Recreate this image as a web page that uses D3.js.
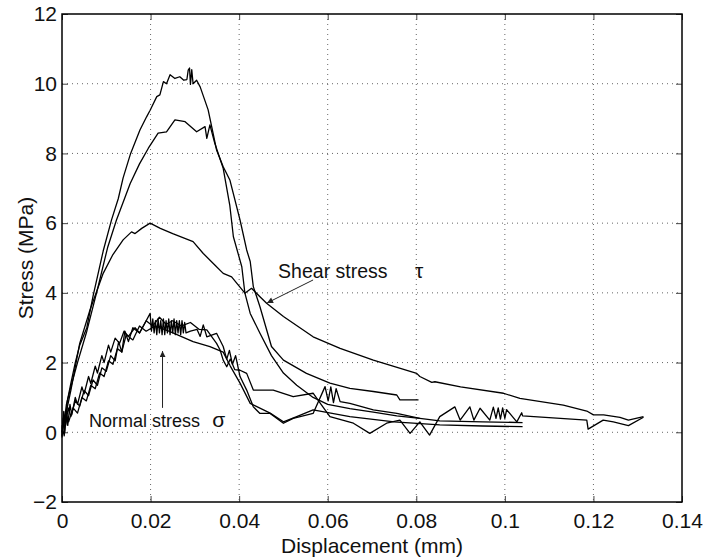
<!DOCTYPE html>
<html>
<head>
<meta charset="utf-8">
<script src="https://cdn.jsdelivr.net/npm/d3@7"></script>
<style>
  body { margin: 0; background: #fff; }
  svg { display: block; font-family: "Liberation Sans", Arial, Helvetica, sans-serif; }
</style>
</head>
<body>
<svg id="chart"></svg>
<script>
// tick values
const xTicks = [0, 0.02, 0.04, 0.06, 0.08, 0.1, 0.12, 0.14]
const yTicks = [-2, 0, 2, 4, 6, 8, 10, 12]

// shear stress curves [displacement mm, stress MPa]
const shearA = [[0,-0.1],[0.0004,0.5],[0.0008,0.2],[0.0012,0.9],[0.002,1.4],[0.003,2.0],[0.004,2.5],[0.0056,3.0],[0.007,3.9],[0.0093,5.2],[0.0112,6.1],[0.0127,6.7],[0.0138,7.3],[0.0155,8.0],[0.0176,8.67],[0.0191,9.05],[0.0199,9.24],[0.0214,9.63],[0.0221,9.68],[0.0229,10.06],[0.0236,10.0],[0.0244,10.26],[0.0255,10.15],[0.0266,10.2],[0.0275,10.1],[0.0282,10.12],[0.0285,10.39],[0.0288,10.45],[0.029,9.98],[0.0293,10.4],[0.0296,10.0],[0.0304,10.1],[0.0312,9.91],[0.033,9.25],[0.0338,8.77],[0.0349,8.1],[0.0364,7.62],[0.0379,7.24],[0.0402,6.09],[0.0417,5.23],[0.0425,4.9],[0.0432,4.18],[0.0447,3.6],[0.0473,2.46],[0.05,2.07],[0.0552,1.69],[0.0605,1.41],[0.065,1.26],[0.0703,1.17],[0.0756,1.07],[0.0763,0.93],[0.0805,0.93]]
const shearB = [[0,0.1],[0.0005,0.3],[0.001,0.8],[0.002,1.3],[0.0035,2.0],[0.0056,2.9],[0.008,4.1],[0.0103,5.3],[0.0123,6.09],[0.0154,7.14],[0.0175,7.7],[0.0195,8.15],[0.0217,8.58],[0.0236,8.62],[0.0255,8.96],[0.0278,8.91],[0.0304,8.62],[0.0323,8.77],[0.0327,8.43],[0.0334,8.82],[0.0345,8.29],[0.0364,7.57],[0.0379,6.5],[0.0387,5.61],[0.0406,4.75],[0.0413,3.99],[0.0425,3.41],[0.0447,2.84],[0.0473,2.2],[0.05,1.7],[0.053,1.35],[0.0567,1.0],[0.06,0.8],[0.065,0.68],[0.0703,0.58],[0.0756,0.47],[0.0808,0.4],[0.0853,0.33],[0.095,0.3],[0.104,0.28]]
const shearC = [[0,0],[0.001,0.6],[0.002,1.2],[0.004,2.55],[0.0063,3.5],[0.0093,4.56],[0.0115,5.1],[0.0138,5.52],[0.0157,5.75],[0.0165,5.7],[0.018,5.85],[0.0199,6.0],[0.0222,5.85],[0.025,5.7],[0.0296,5.47],[0.0319,5.13],[0.0345,4.8],[0.0364,4.56],[0.0383,4.46],[0.0413,3.99],[0.0428,4.13],[0.0447,3.89],[0.0462,3.7],[0.05,3.32],[0.0567,2.74],[0.0628,2.41],[0.0703,2.07],[0.0801,1.69],[0.0808,1.6],[0.0835,1.43],[0.0842,1.45],[0.09,1.3],[0.0997,1.12],[0.1034,0.97],[0.1132,0.78],[0.1185,0.61],[0.12,0.5],[0.1223,0.5],[0.126,0.43],[0.1279,0.35],[0.1313,0.45]]

// normal stress curves
const normalA = [[0,-0.15],[0.0003,0.4],[0.0006,0.0],[0.001,0.6],[0.0013,0.2],[0.0018,0.8],[0.0022,0.5],[0.003,1.0],[0.0035,0.8],[0.0045,1.3],[0.005,1.1],[0.006,1.6],[0.0065,1.4],[0.0075,1.9],[0.008,1.7],[0.009,2.2],[0.0095,2.0],[0.0105,2.5],[0.011,2.3],[0.012,2.7],[0.013,2.55],[0.014,2.9],[0.015,2.75],[0.0165,3.0],[0.0175,2.85],[0.0188,3.15],[0.0199,3.41],[0.0202,2.9],[0.0205,3.25],[0.0208,2.85],[0.0211,3.2],[0.0214,2.8],[0.0217,3.25],[0.022,2.85],[0.0223,3.2],[0.0226,2.8],[0.0229,3.25],[0.0232,2.8],[0.0235,3.2],[0.0238,2.85],[0.0241,3.25],[0.0244,2.8],[0.0247,3.2],[0.025,2.85],[0.0253,3.25],[0.0256,2.8],[0.0259,3.2],[0.0262,2.85],[0.0265,3.2],[0.0268,2.8],[0.0271,3.2],[0.0274,2.85],[0.0277,3.15],[0.028,2.85],[0.029,2.9],[0.0305,2.95],[0.0312,2.75],[0.0319,3.08],[0.0327,2.74],[0.0349,2.84],[0.0364,2.46],[0.0372,2.1],[0.0378,2.35],[0.0385,1.95],[0.0392,2.2],[0.0402,1.6],[0.0417,1.21],[0.0432,0.73],[0.0447,0.54],[0.047,0.54],[0.05,0.26],[0.0522,0.4],[0.0567,0.54],[0.0594,1.31],[0.0601,0.9],[0.0607,1.3],[0.0613,0.85],[0.0619,1.25],[0.0628,0.88],[0.065,0.83],[0.0703,0.64],[0.0756,0.54],[0.0808,0.4]]
const normalB = [[0,0.2],[0.0005,-0.1],[0.001,0.5],[0.0015,0.3],[0.0025,0.7],[0.0035,0.55],[0.0045,1.0],[0.0055,0.9],[0.0065,1.35],[0.0075,1.25],[0.0085,1.7],[0.0095,1.6],[0.0105,2.05],[0.0115,1.95],[0.0125,2.4],[0.0135,2.3],[0.0145,2.8],[0.016,2.65],[0.0175,3.05],[0.019,2.9],[0.021,3.05],[0.0244,2.89],[0.0296,2.6],[0.0334,2.46],[0.0364,2.3],[0.038,1.9],[0.0402,1.41],[0.0425,0.83],[0.047,0.55],[0.05,0.3],[0.053,0.45],[0.0567,0.64],[0.065,0.45],[0.075,0.3],[0.0853,0.21],[0.095,0.18],[0.104,0.16]]
const normalC = [[0,0.0],[0.0004,0.6],[0.0008,0.2],[0.0014,0.7],[0.002,0.45],[0.003,0.9],[0.004,0.75],[0.005,1.2],[0.006,1.05],[0.007,1.5],[0.008,1.35],[0.009,1.85],[0.01,1.75],[0.011,2.2],[0.012,2.05],[0.0128,2.6],[0.0135,2.3],[0.0142,2.9],[0.015,2.6],[0.016,3.0],[0.0175,2.85],[0.019,3.2],[0.0205,3.05],[0.022,3.3],[0.0235,3.1],[0.025,3.2],[0.027,3.05],[0.029,3.15],[0.031,2.95],[0.0327,2.94],[0.0349,2.55],[0.0357,2.36],[0.0364,2.07],[0.0372,1.88],[0.038,2.1],[0.039,1.8],[0.0402,1.78],[0.0417,1.69],[0.0432,1.21],[0.0477,1.21],[0.0522,1.02],[0.0567,1.12],[0.0585,0.8],[0.0605,0.45],[0.0658,0.26],[0.0695,-0.03],[0.0733,0.26],[0.0763,0.35],[0.0786,-0.03],[0.0808,0.3],[0.083,-0.08],[0.0853,0.45],[0.0887,0.73],[0.0899,0.35],[0.0921,0.73],[0.093,0.35],[0.0944,0.69],[0.0966,0.35],[0.0974,0.72],[0.098,0.4],[0.0985,0.7],[0.099,0.38],[0.0995,0.7],[0.1,0.4],[0.1004,0.65],[0.1027,0.3],[0.1038,0.56],[0.104,0.47],[0.1185,0.35],[0.1188,0.09],[0.1222,0.35],[0.1245,0.3],[0.1279,0.19],[0.1313,0.43]]

const curves = [shearA, shearB, shearC, normalA, normalB, normalC]

// annotations in data units
const notes = [
    {text: 'Shear stress', sym: 'τ', x: 0.0488, y: 4.43, symX: 0.0797,
     from: [0.0567, 4.37], to: [0.0463, 3.71]},
    {text: 'Normal stress', sym: 'σ', x: 0.0061, y: 0.15, symX: 0.0339,
     from: [0.0227, 0.70], to: [0.0227, 2.33]}
]
const noteSize = [19.5, 18]

const W = 707, H = 558
const margin = {top: 14, right: 25, bottom: 56, left: 62}
const width = W - margin.left - margin.right
const height = H - margin.top - margin.bottom

const svg = d3.select('#chart').attr('width', W).attr('height', H)
const g = svg.append('g').attr('transform', `translate(${margin.left},${margin.top})`)

const x = d3.scaleLinear().domain([0, 0.14]).range([0, width])
const y = d3.scaleLinear().domain([-2, 12]).range([height, 0])

// dotted grid
g.append('g').selectAll('line').data(xTicks.slice(1, -1)).join('line')
    .attr('x1', d => x(d)).attr('x2', d => x(d))
    .attr('y1', 0).attr('y2', height)
    .attr('stroke', '#666').attr('stroke-width', 1).attr('stroke-dasharray', '1,4')
g.append('g').selectAll('line').data(yTicks.slice(1, -1)).join('line')
    .attr('y1', d => y(d)).attr('y2', d => y(d))
    .attr('x1', 0).attr('x2', width)
    .attr('stroke', '#666').attr('stroke-width', 1).attr('stroke-dasharray', '1,4')

const fmtX = d => d === 0 ? '0' : String(+d.toFixed(2))
const fmtY = d => d < 0 ? '\u2212' + Math.abs(d) : String(d)

function styleAxis(sel) {
    sel.select('.domain').remove()
    sel.selectAll('.tick line').attr('stroke', '#444')
    sel.selectAll('text').attr('font-size', 21).attr('fill', '#111')
        .attr('font-family', '"Liberation Sans", Arial, sans-serif')
}

g.append('g').attr('transform', `translate(0,${height})`)
    .call(d3.axisBottom(x).tickValues(xTicks).tickFormat(fmtX).tickSize(-6).tickPadding(11))
    .call(styleAxis)
g.append('g')
    .call(d3.axisTop(x).tickValues(xTicks).tickFormat('').tickSize(-6))
    .call(styleAxis)
g.append('g')
    .call(d3.axisLeft(y).tickValues(yTicks).tickFormat(fmtY).tickSize(-6).tickPadding(5))
    .call(styleAxis)
g.append('g').attr('transform', `translate(${width},0)`)
    .call(d3.axisRight(y).tickValues(yTicks).tickFormat('').tickSize(-6))
    .call(styleAxis)

// box
g.append('rect').attr('width', width).attr('height', height)
    .attr('fill', 'none').attr('stroke', '#000').attr('stroke-width', 1.5)

const line = d3.line().x(d => x(d[0])).y(d => y(d[1]))

g.append('g').selectAll('path').data(curves).join('path')
    .attr('d', line)
    .attr('fill', 'none').attr('stroke', '#000')
    .attr('stroke-width', 1.3).attr('stroke-linejoin', 'round')

// arrows + labels
svg.append('defs').append('marker')
    .attr('id', 'arrow').attr('viewBox', '0 0 10 10')
    .attr('refX', 10).attr('refY', 5)
    .attr('markerWidth', 9).attr('markerHeight', 6)
    .attr('markerUnits', 'userSpaceOnUse')
    .attr('orient', 'auto')
    .append('path').attr('d', 'M0,0 L10,5 L0,10 Z').attr('fill', '#222')

const ann = g.append('g')
ann.selectAll('line').data(notes).join('line')
    .attr('x1', d => x(d.from[0])).attr('y1', d => y(d.from[1]))
    .attr('x2', d => x(d.to[0])).attr('y2', d => y(d.to[1]))
    .attr('stroke', '#222').attr('stroke-width', 1)
    .attr('marker-end', 'url(#arrow)')
ann.selectAll('text.lab').data(notes).join('text').attr('class', 'lab')
    .attr('x', d => x(d.x)).attr('y', d => y(d.y))
    .attr('font-size', (d, i) => noteSize[i]).attr('fill', '#111')
    .text(d => d.text)
ann.selectAll('text.sym').data(notes).join('text').attr('class', 'sym')
    .attr('x', d => x(d.symX)).attr('y', d => y(d.y))
    .attr('font-size', 21).attr('fill', '#111')
    .text(d => d.sym)

// axis titles
svg.append('text')
    .attr('x', margin.left + width / 2).attr('y', 553)
    .attr('text-anchor', 'middle').attr('font-size', 21).attr('fill', '#111')
    .text('Displacement (mm)')
svg.append('text')
    .attr('transform', `translate(33,${margin.top + height / 2}) rotate(-90)`)
    .attr('text-anchor', 'middle').attr('font-size', 21).attr('fill', '#111')
    .text('Stress (MPa)')
</script>
</body>
</html>
